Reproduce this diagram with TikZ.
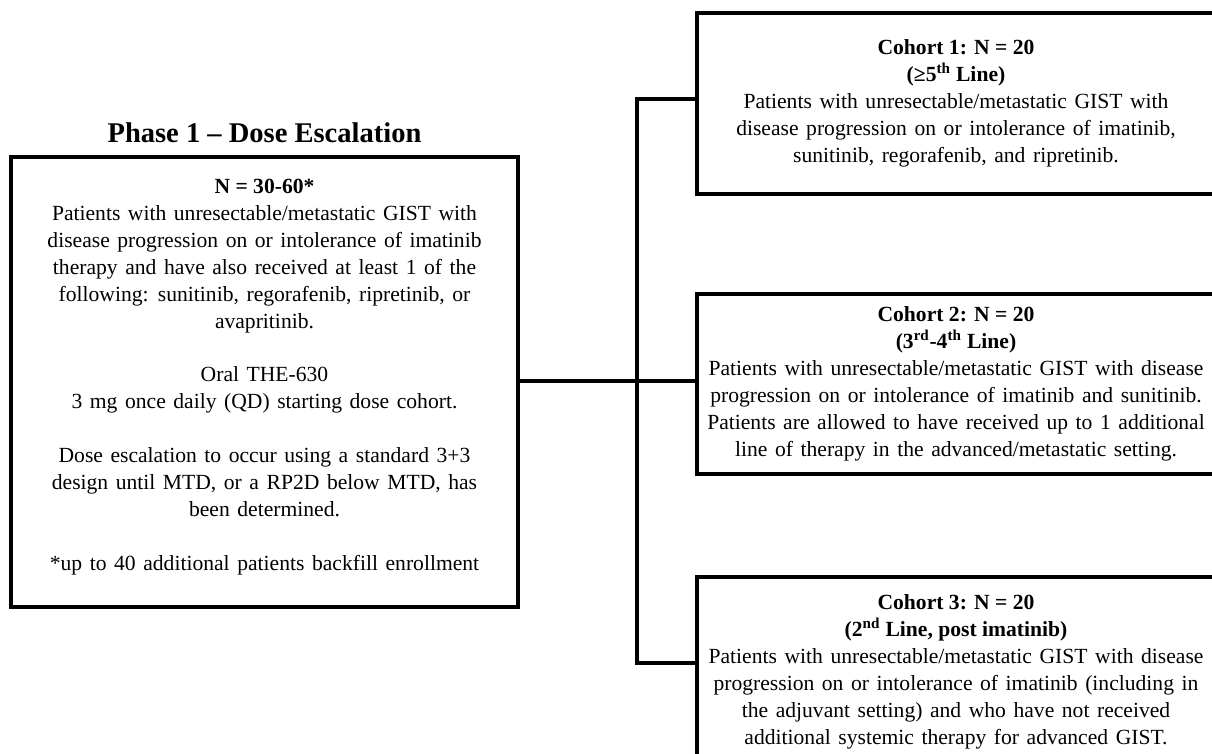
\documentclass[tikz,border=0pt]{standalone}
\usepackage{fontspec}
\setmainfont{Liberation Serif}
\newfontfamily\bodyfont[WordSpace=1.4]{Liberation Serif}
\newcommand{\hd}[1]{{\normalfont\bfseries #1}}

\begin{document}
\begin{tikzpicture}[x=0.75pt, y=-0.75pt,
  txt/.style={font=\bodyfont\fontsize{16.2}{20.25}\selectfont, align=center},
  box/.style={draw, line width=3pt, txt, inner sep=0pt},
  conn/.style={line width=3pt}]
\useasboundingbox (0,0) rectangle (1212,753);
\clip (0,0) rectangle (1212,753);
% phase 1 box
\node[font=\bfseries\fontsize{21.4}{25}\selectfont] (title) at (264.5,133) {Phase 1 – Dose Escalation};
\node[box, minimum width=380.25pt, minimum height=337.5pt] (phase) at (264.5,382) {};
\node[txt] (phasetxt) at ([yshift=4pt]phase.center) {\hd{N = 30-60*}\\
Patients with unresectable/metastatic GIST with\\
disease progression on or intolerance of imatinib\\
therapy and have also received at least 1 of the\\
following: sunitinib, regorafenib, ripretinib, or\\
avapritinib.\\[20pt]
Oral THE-630\\
3 mg once daily (QD) starting dose cohort.\\[20pt]
Dose escalation to occur using a standard 3+3\\
design until MTD, or a RP2D below MTD, has\\
been determined.\\[20pt]
*up to 40 additional patients backfill enrollment};
% cohorts (right edges run off the page)
\node[box, minimum width=388.5pt, minimum height=135.75pt] (c1) at (956,103.5) {\hd{Cohort 1: N = 20}\\
\hd{(≥5\textsuperscript{th} Line)}\\
Patients with unresectable/metastatic GIST with\\
disease progression on or intolerance of imatinib,\\
sunitinib, regorafenib, and ripretinib.};
\node[box, minimum width=388.5pt, minimum height=135pt] (c2) at (956,384) {\hd{Cohort 2: N = 20}\\
\hd{(3\textsuperscript{rd}-4\textsuperscript{th} Line)}\\
Patients with unresectable/metastatic GIST with disease\\
progression on or intolerance of imatinib and sunitinib.\\
Patients are allowed to have received up to 1 additional\\
line of therapy in the advanced/metastatic setting.};
\node[box, minimum width=388.5pt, minimum height=142.5pt] (c3) at (956,672) {\hd{Cohort 3: N = 20}\\
\hd{(2\textsuperscript{nd} Line, post imatinib)}\\
Patients with unresectable/metastatic GIST with disease\\
progression on or intolerance of imatinib (including in\\
the adjuvant setting) and who have not received\\
additional systemic therapy for advanced GIST.};
% connectors
\coordinate (split) at (637,381);
\coordinate (up) at (637,99);
\coordinate (down) at (637,663);
\draw[conn] (phase.east |- split) -- (c2.west |- split);
\draw[conn] (c1.west |- up) -- (up) -- (down) -- (c3.west |- down);
\end{tikzpicture}
\end{document}
